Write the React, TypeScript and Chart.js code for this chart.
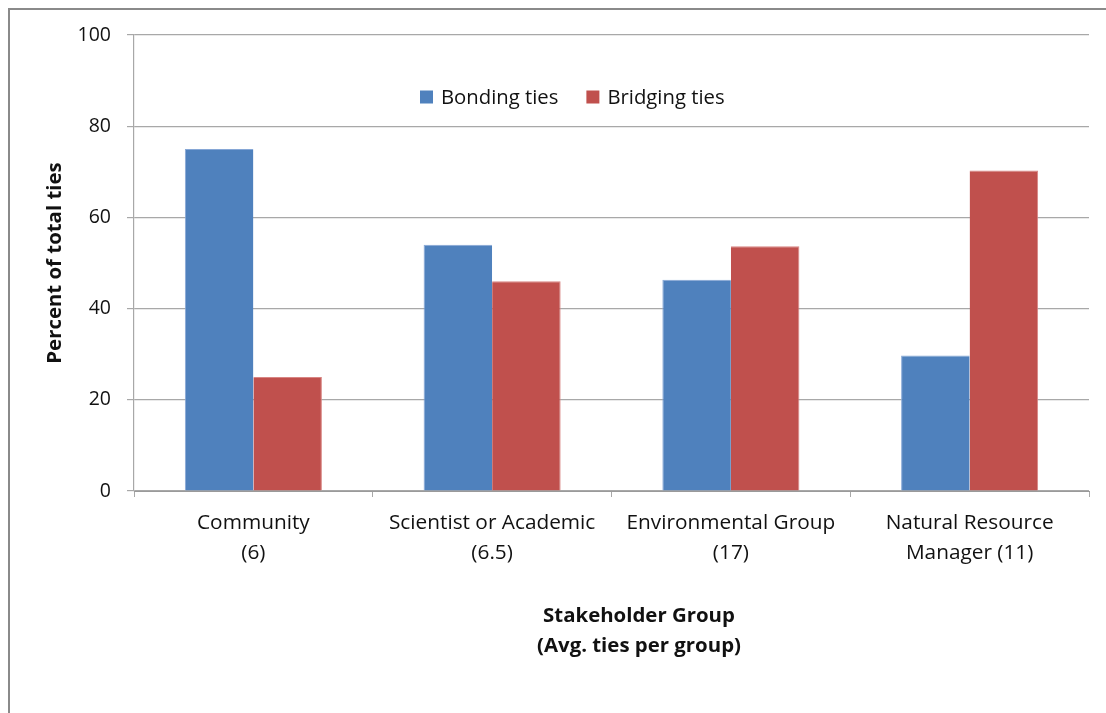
import React, { useEffect, useRef } from "react";
import { Chart, registerables } from "chart.js";

Chart.register(...registerables);

// Stakeholder groups (two-line tick labels) and tie shares in percent
const categories: string[][] = [
  ["Community", "(6)"],
  ["Scientist or Academic", "(6.5)"],
  ["Environmental Group", "(17)"],
  ["Natural Resource", "Manager (11)"],
];
const bondingTies: number[] = [75, 54, 46.3, 29.7];
const bridgingTies: number[] = [25, 46, 53.7, 70.3];
const yTicks: number[] = [0, 20, 40, 60, 80, 100];
const xTitleLines: string[] = ["Stakeholder Group", "(Avg. ties per group)"];
const yTitle = "Percent of total ties";

const FONT = "'Open Sans', 'Noto Sans', sans-serif";
const TEXT = "#111111";
const GRID = "#a8a8a8";

// Draws the floating legend inside the plot and the two-line x-axis caption
const overlayPlugin = {
  id: "overlay",
  afterDraw(chart: Chart) {
    const { ctx, chartArea } = chart;
    ctx.save();
    ctx.font = `20.3px ${FONT}`;
    ctx.textBaseline = "middle";
    ctx.textAlign = "left";
    let x = chartArea.left + 286;
    const y = chartArea.top + 62;
    const box = 13;
    chart.data.datasets.forEach((ds: any) => {
      ctx.fillStyle = ds.backgroundColor as string;
      ctx.fillRect(x, y - box / 2, box, box);
      x += box + 8;
      ctx.fillStyle = TEXT;
      ctx.fillText(ds.label, x, y + 1);
      x += ctx.measureText(ds.label).width + 28;
    });

    ctx.font = `bold 20.4px ${FONT}`;
    ctx.textAlign = "center";
    const cx = 629;
    xTitleLines.forEach((line, i) => {
      ctx.fillText(line, cx, 606 + i * 30);
    });
    ctx.restore();
  },
};

export default function App() {
  const canvasRef = useRef<HTMLCanvasElement | null>(null);

  useEffect(() => {
    if (!canvasRef.current) return;
    const chart = new Chart(canvasRef.current, {
      type: "bar",
      data: {
        labels: categories,
        datasets: [
          {
            label: "Bonding ties",
            data: bondingTies,
            backgroundColor: "#4F81BD",
            borderColor: "#86a7d6",
            borderWidth: { top: 1, left: 1, right: 0, bottom: 0 },
            categoryPercentage: 0.574,
            barPercentage: 1,
          },
          {
            label: "Bridging ties",
            data: bridgingTies,
            backgroundColor: "#C0504D",
            borderColor: "#d88583",
            borderWidth: { top: 1, left: 0, right: 1, bottom: 0 },
            categoryPercentage: 0.574,
            barPercentage: 1,
          },
        ],
      },
      options: {
        responsive: false,
        animation: false,
        layout: { padding: { top: 25, right: 17, left: 0, bottom: 0 } },
        plugins: {
          legend: { display: false },
          tooltip: { enabled: false },
        },
        scales: {
          x: {
            offset: true,
            grid: {
              display: true,
              drawOnChartArea: false,
              drawTicks: true,
              tickLength: 6,
              color: GRID,
              offset: true,
            },
            border: { display: true, color: "#9a9a9a", width: 1 },
            ticks: {
              color: TEXT,
              padding: 11,
              maxRotation: 0,
              autoSkip: false,
              font: { family: FONT, size: 20.8, lineHeight: 1.45 },
            },
            afterFit: (scale: any) => {
              scale.height = 222;
              scale.paddingLeft = 0;
              scale.paddingRight = 0;
            },
          },
          y: {
            min: 0,
            max: 100,
            afterBuildTicks: (scale: any) => {
              scale.ticks = yTicks.map((v) => ({ value: v }));
            },
            grid: {
              color: GRID,
              lineWidth: 1.2,
              tickLength: 7,
              drawTicks: true,
            },
            border: { display: true, color: GRID, width: 1.2 },
            ticks: {
              color: TEXT,
              padding: 16,
              font: { family: FONT, size: 19.5 },
            },
            title: {
              display: true,
              text: yTitle,
              color: TEXT,
              padding: { top: 33, bottom: 0 },
              font: { family: FONT, size: 20.4, weight: "bold" },
            },
            afterFit: (scale: any) => {
              scale.width = 124;
              scale.paddingTop = 0;
              scale.paddingBottom = 0;
            },
          },
        },
      },
      plugins: [overlayPlugin],
    });
    return () => chart.destroy();
  }, []);

  return (
    <div
      style={{
        position: "fixed",
        left: 8,
        top: 8,
        width: 1098,
        height: 705,
        borderLeft: "2px solid #8a8a8a",
        borderTop: "2px solid #8a8a8a",
        boxSizing: "border-box",
        background: "#fff",
      }}
    >
      <canvas ref={canvasRef} width={1096} height={703} style={{ display: "block" }} />
    </div>
  );
}
